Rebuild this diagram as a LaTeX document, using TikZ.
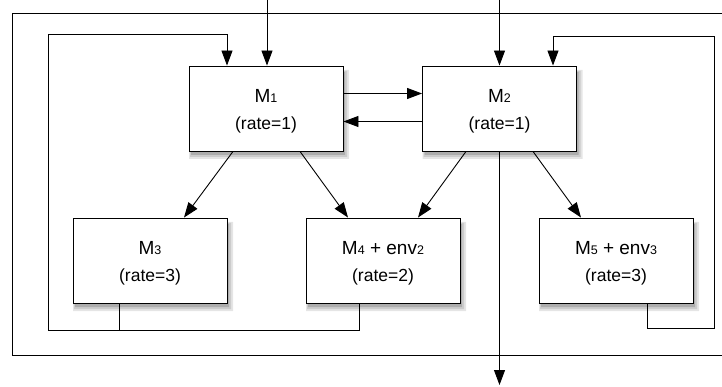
\documentclass[tikz,border=0pt]{standalone}
\usepackage{fontspec}
\setmainfont{Liberation Sans}
\usetikzlibrary{arrows.meta}
\newcommand{\idx}[1]{{\fontsize{12.5}{12.5}\selectfont #1}}
\newcommand{\modtext}[2]{\rule{0pt}{19pt}{\fontsize{19}{19}\selectfont #1}\\(rate=#2)}

\begin{document}
\begin{tikzpicture}[x=1pt,y=-1pt,>={Triangle[length=15pt,width=11pt]},line width=0.9pt,
  module/.style={draw,fill=white,minimum width=154pt,minimum height=85pt,align=center,
    font=\fontsize{17.5}{27}\selectfont}]
\useasboundingbox (0,0) rectangle (722,387);
% outer frame, open on the right
\draw (722,13) -- (12,13) -- (12,355) -- (722,355);
% soft shadows first, boxes on top
\fill[black!10] (189,70) rectangle (349,159) (422.5,70) rectangle (582.5,159)
  (73,222) rectangle (233,311) (306,222) rectangle (466,311) (539,222) rectangle (699,311);
\fill[black!20] (190,71) rectangle (347,157) (423.5,71) rectangle (580.5,157)
  (74,223) rectangle (231,309) (307,223) rectangle (464,309) (540,223) rectangle (697,309);
\fill[black!32] (191,72) rectangle (345,155) (424.5,72) rectangle (578.5,155)
  (75,224) rectangle (229,307) (308,224) rectangle (462,307) (541,224) rectangle (695,307);
% modules
\node[module] (m1) at (266,108.5) {\modtext{M\idx{1}}{1}};
\node[module] (m2) at (499.5,108.5) {\modtext{M\idx{2}}{1}};
\node[module] (m3) at (150,260.5) {\modtext{M\idx{3}}{3}};
\node[module] (m4) at (383,260.5) {\modtext{M\idx{4} + env\idx{2}}{2}};
\node[module] (m5) at (616,260.5) {\modtext{M\idx{5} + env\idx{3}}{3}};
% inputs and output
\coordinate (in1) at (267,0);
\coordinate (in2) at (499.5,0);
\coordinate (out) at (499.5,385);
\draw[->] (in1) -- (in1 |- m1.north);
\draw[->] (in2) -- (m2.north);
\draw[->] (m2.south) -- (out);
% between M1 and M2
\draw[->] ([yshift=15pt]m1.east) -- ([yshift=15pt]m2.west);
\draw[->] ([yshift=-13pt]m2.west) -- ([yshift=-13pt]m1.east);
% down to the lower modules
\draw[->] ([xshift=-33pt]m1.south) -- ([xshift=34pt]m3.north);
\draw[->] ([xshift=34pt]m1.south) -- ([xshift=-35pt]m4.north);
\draw[->] ([xshift=-33.5pt]m2.south) -- ([xshift=35pt]m4.north);
\draw[->] ([xshift=33.5pt]m2.south) -- ([xshift=-35pt]m5.north);
% feedback loops
\draw[->] ([xshift=-31pt]m3.south) -- ++(0,27) -| (48,34) -| ([xshift=-39pt]m1.north);
\draw ([xshift=-24pt]m4.south) |- ([xshift=-31pt]m3.south |- 0,330);
\draw[->] ([xshift=31pt]m5.south) -- ++(0,25) -| (714,36) -| ([xshift=53.5pt]m2.north);
\end{tikzpicture}
\end{document}
